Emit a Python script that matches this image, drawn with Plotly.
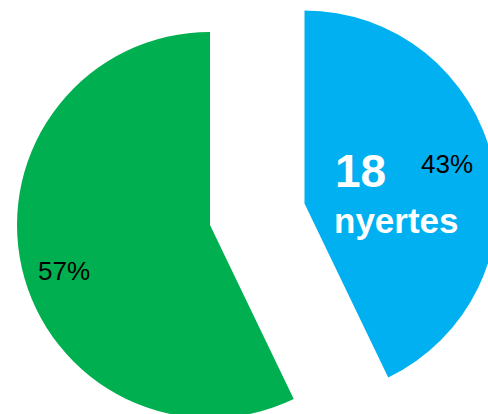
import plotly.graph_objects as go

# ---- data ----
labels = ["nyertes", "nem nyertes"]
values = [18, 24]
colors = ["#00B0F0", "#00B050"]
big_number = "18"
big_label = "nyertes"

# ---- layout geometry (pixels) ----
W, H = 500, 422          # drawing canvas (clipped to 488x414 window)
R = 193                  # slice radius
centers = [(304.5, 203.5), (210.0, 225.0)]  # blue, green slice tips
label_pos = [(447, 164), (64, 271)]         # percent label centres

FONT = "Liberation Sans, Arial, sans-serif"


def dom(cx, cy):
    return dict(x=[(cx - R) / W, (cx + R) / W],
                y=[1 - (cy + R) / H, 1 - (cy - R) / H])


fig = go.Figure()
for i, (cx, cy) in enumerate(centers):
    cols = ["rgba(0,0,0,0)"] * len(values)
    cols[i] = colors[i]
    fig.add_trace(go.Pie(
        labels=labels, values=values, sort=False, direction="clockwise",
        rotation=0, marker=dict(colors=cols, line=dict(width=0)),
        textinfo="none", domain=dom(cx, cy), showlegend=False,
        hoverinfo="label+value+percent",
    ))

total = sum(values)
for v, (px, py) in zip(values, label_pos):
    fig.add_annotation(x=px / W, y=1 - py / H, xref="paper", yref="paper",
                       xanchor="center", yanchor="middle", showarrow=False,
                       text=f"{v / total:.0%}",
                       font=dict(family=FONT, size=26, color="black"))

fig.add_annotation(x=333 / W, y=1 - 171 / H, xref="paper", yref="paper",
                   xanchor="left", yanchor="middle", showarrow=False,
                   text="<b>" + big_number + "</b>",
                   font=dict(family=FONT, size=46, color="white"))
fig.add_annotation(x=332 / W, y=1 - 220 / H, xref="paper", yref="paper",
                   xanchor="left", yanchor="middle", showarrow=False,
                   text="<b>" + big_label + "</b>",
                   font=dict(family=FONT, size=35, color="white"))

fig.update_layout(width=W, height=H, margin=dict(l=0, r=0, t=0, b=0),
                  paper_bgcolor="white", plot_bgcolor="white", showlegend=False)

post = ("var d=document.getElementById('{plot_id}');"
        "d.style.width='488px';d.style.height='414px';d.style.overflow='hidden';"
        "document.documentElement.style.overflow='hidden';"
        "document.body.style.overflow='hidden';document.body.style.margin='0';")
fig.write_html("out.html", post_script=post)
